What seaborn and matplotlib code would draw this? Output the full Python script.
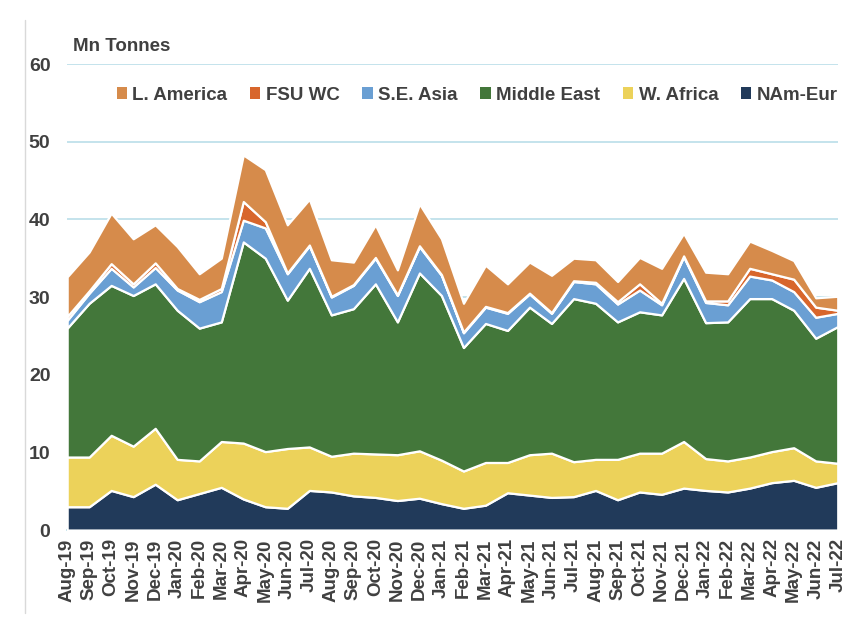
import numpy as np
import matplotlib
matplotlib.use("Agg")
import matplotlib.pyplot as plt
from matplotlib.patches import Patch
from matplotlib.lines import Line2D
import seaborn as sns

months = ["Aug-19", "Sep-19", "Oct-19", "Nov-19", "Dec-19", "Jan-20", "Feb-20", "Mar-20",
          "Apr-20", "May-20", "Jun-20", "Jul-20", "Aug-20", "Sep-20", "Oct-20", "Nov-20",
          "Dec-20", "Jan-21", "Feb-21", "Mar-21", "Apr-21", "May-21", "Jun-21", "Jul-21",
          "Aug-21", "Sep-21", "Oct-21", "Nov-21", "Dec-21", "Jan-22", "Feb-22", "Mar-22",
          "Apr-22", "May-22", "Jun-22", "Jul-22"]

# Mn tonnes per month
nam_eur = [3.0, 3.0, 5.1, 4.3, 5.9, 3.9, 4.7, 5.5, 4.0, 3.0, 2.8, 5.1, 4.9, 4.4, 4.2, 3.8, 4.1, 3.4,
           2.8, 3.2, 4.8, 4.5, 4.2, 4.3, 5.1, 3.9, 4.9, 4.6, 5.4, 5.1, 4.9, 5.4, 6.1, 6.4, 5.5, 6.1]
w_africa = [6.4, 6.4, 7.1, 6.5, 7.2, 5.2, 4.2, 5.9, 7.2, 7.1, 7.7, 5.6, 4.6, 5.5, 5.6, 5.9, 6.1, 5.6,
            4.8, 5.5, 3.9, 5.2, 5.7, 4.5, 4.0, 5.2, 5.0, 5.3, 6.0, 4.1, 4.0, 4.0, 4.0, 4.2, 3.4, 2.5]
middle_east = [16.6, 19.8, 19.3, 19.4, 18.6, 19.2, 17.1, 15.4, 25.9, 24.9, 19.1, 23.0, 18.2, 18.6,
               21.9, 17.1, 22.9, 21.2, 15.9, 17.9, 17.0, 19.0, 16.7, 21.0, 20.1, 17.7, 18.2, 17.8,
               21.0, 17.5, 17.9, 20.4, 19.7, 17.7, 15.8, 17.6]
se_asia = [1.0, 1.3, 2.2, 1.1, 2.1, 2.6, 3.4, 3.9, 2.8, 3.9, 3.4, 2.9, 2.3, 3.0, 3.3, 3.4, 3.4, 2.6,
           1.9, 2.1, 2.2, 1.7, 1.3, 2.2, 2.5, 2.3, 2.8, 1.3, 2.8, 2.6, 2.2, 2.9, 2.4, 2.4, 2.7, 1.7]
fsu_wc = [0.5, 0.3, 0.6, 0.4, 0.6, 0.2, 0.3, 0.4, 2.4, 0.8, 0.1, 0.1, 0.1, 0.1, 0.1, 0.1, 0.1, 0.1,
          0.1, 0.1, 0.1, 0.1, 0.1, 0.1, 0.2, 0.3, 0.8, 0.2, 0.1, 0.2, 0.5, 1.0, 0.8, 1.6, 1.3, 0.4]
l_america = [5.1, 5.0, 6.5, 5.8, 4.9, 5.4, 3.3, 3.9, 6.0, 6.7, 6.2, 5.9, 4.7, 2.9, 4.2, 3.2, 5.4, 4.6,
             3.7, 5.3, 3.7, 4.0, 4.8, 2.9, 2.9, 2.6, 3.4, 4.5, 2.9, 3.7, 3.5, 3.5, 3.0, 2.4, 1.2, 1.8]

series_names = ["NAm-Eur", "W. Africa", "Middle East", "S.E. Asia", "FSU WC", "L. America"]
colors = sns.color_palette(["#213a5a", "#ecd25a", "#43773a", "#6a9fd3", "#d8662c", "#d68b4b"])

sns.set_theme(style="white")
plt.rcParams["font.family"] = ["Liberation Sans", "DejaVu Sans"]
txt = "#404040"

fig = plt.figure(figsize=(8.61, 6.28), dpi=100)
ax = fig.add_axes([0.078, 0.156, 0.895, 0.742])

x = np.arange(len(months))
ax.stackplot(x, nam_eur, w_africa, middle_east, se_asia, fsu_wc, l_america,
             colors=colors, edgecolor="white", linewidth=1.6, zorder=3)

ax.set_xlim(0, len(months) - 1)
ax.set_ylim(0, 60)
ax.set_yticks(range(0, 61, 10))
ax.yaxis.grid(True, color="#bfe1ea", linewidth=1.3, zorder=0)
ax.xaxis.grid(False)
for s in ["top", "right", "left"]:
    ax.spines[s].set_visible(False)
ax.spines["bottom"].set_color("#bfe1ea")
ax.spines["bottom"].set_linewidth(1.3)

ax.set_xticks(x)
ax.set_xticklabels(months, rotation=90, fontsize=13.5, fontweight="bold", color=txt)
ax.tick_params(axis="x", length=0, pad=6)
ax.tick_params(axis="y", length=0, pad=12, labelsize=14, labelcolor=txt)
for lab in ax.get_yticklabels():
    lab.set_fontweight("bold")

ax.text(0.008, 1.02, "Mn Tonnes", transform=ax.transAxes, fontsize=13.5,
        fontweight="bold", color=txt, va="bottom", ha="left")

handles = [Patch(facecolor=colors[i], edgecolor="none", label=series_names[i])
           for i in [5, 4, 3, 2, 1, 0]]
leg = ax.legend(handles=handles, loc="center", bbox_to_anchor=(0.532, 0.933), ncol=6,
                frameon=False, prop={"weight": "bold", "size": 13.5},
                handlelength=0.55, handleheight=0.55, handletextpad=0.3, columnspacing=1.2)
for t in leg.get_texts():
    t.set_color(txt)

fig.add_artist(Line2D([0.029, 0.029], [0.024, 0.968], transform=fig.transFigure,
                      color="#d9d9d9", linewidth=1))

fig.savefig("out.png", dpi=100)
